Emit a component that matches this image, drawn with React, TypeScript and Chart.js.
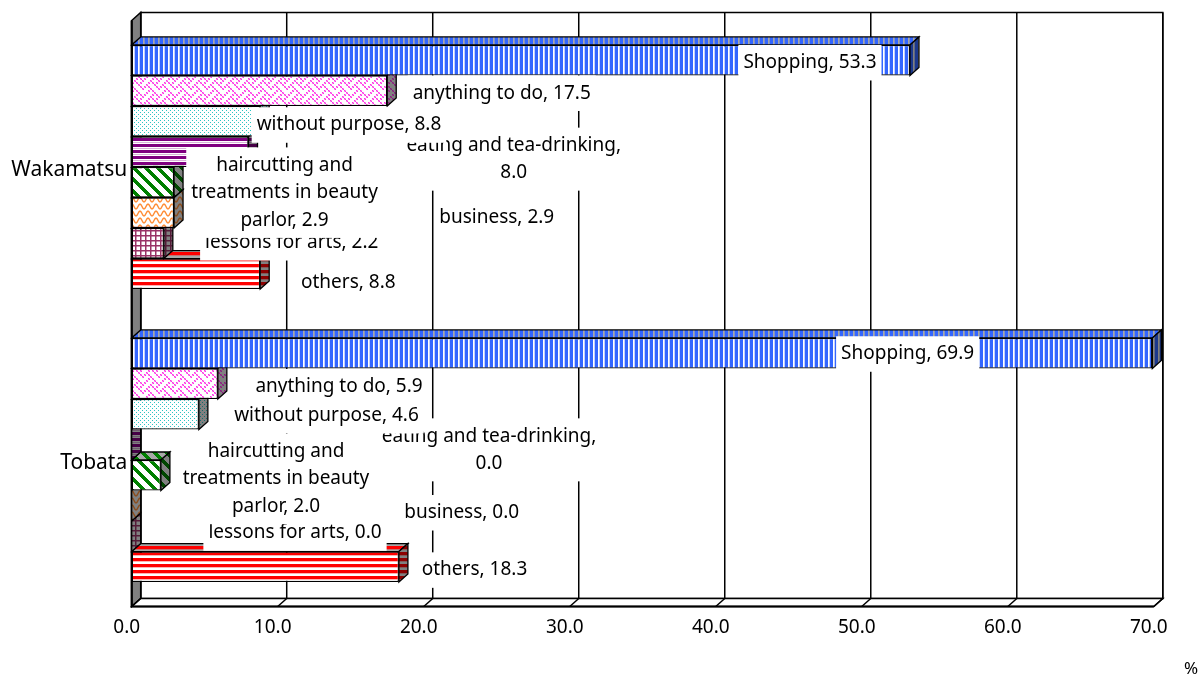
import React, { useEffect, useRef } from "react";
import { Chart, registerables } from "chart.js";

Chart.register(...registerables);

// ---------- data ----------
const categories = ["Wakamatsu", "Tobata"];
const seriesNames = [
  "Shopping",
  "anything to do",
  "without purpose",
  "eating and tea-drinking",
  "haircutting and treatments in beauty parlor",
  "business",
  "lessons for arts",
  "others",
];
const shopping = [53.3, 69.9];
const anythingToDo = [17.5, 5.9];
const withoutPurpose = [8.8, 4.6];
const eatingTea = [8.0, 0.0];
const haircutting = [2.9, 2.0];
const business = [2.9, 0.0];
const lessons = [2.2, 0.0];
const others = [8.8, 18.3];
const seriesValues = [shopping, anythingToDo, withoutPurpose, eatingTea, haircutting, business, lessons, others];

// label text (line breaks as in the picture)
const labelTemplates = [
  "Shopping, {v}",
  "anything to do, {v}",
  "without purpose, {v}",
  "eating and tea-drinking,\n{v}",
  "haircutting and\ntreatments in beauty\nparlor, {v}",
  "business, {v}",
  "lessons for arts, {v}",
  "others, {v}",
];

const xMin = 0;
const xMax = 70;
const xStep = 10;

// ---------- styles / layout ----------
const FONT = '"Noto Sans", sans-serif';
const DX = 9;
const DY = 8;
// label centre offsets (px) from each bar's end, [category][series]
const labelOffsets = [
  [[-100, 2.5], [114.5, 2.5], [88.8, 3.8], [265.2, 7.4], [110.5, 10.4], [322.7, 5], [127.9, -0.5], [88.1, 9]],
  [[-244.7, 0.8], [121.2, 3], [127.6, 1.5], [357.3, 5.1], [115.1, 3.7], [330, 7], [163.3, -3.2], [75.6, 3.3]],
];
const seriesPatterns = [
  { kind: "vstripe", fg: "#3366ff" },
  { kind: "weave", fg: "#ff33e6" },
  { kind: "dots", fg: "#2cc4c4" },
  { kind: "hstripe", fg: "#800080" },
  { kind: "diag", fg: "#008000" },
  { kind: "wave", fg: "#ff8c33" },
  { kind: "grid", fg: "#993366" },
  { kind: "hstripeRed", fg: "#ff0000" },
];

function darken(hex: string, f: number): string {
  const n = parseInt(hex.slice(1), 16);
  const r = Math.round(((n >> 16) & 255) * f);
  const g = Math.round(((n >> 8) & 255) * f);
  const b = Math.round((n & 255) * f);
  return `rgb(${r},${g},${b})`;
}

function makeTile(kind: string, fg: string, bg: string): HTMLCanvasElement {
  const c = document.createElement("canvas");
  let w = 8;
  let h = 8;
  switch (kind) {
    case "vstripe": w = 5; h = 4; break;
    case "weave": w = 16; h = 16; break;
    case "dots": w = 4; h = 4; break;
    case "hstripe": w = 4; h = 6; break;
    case "diag": w = 12; h = 12; break;
    case "wave": w = 8; h = 7; break;
    case "grid": w = 5; h = 5; break;
    case "hstripeRed": w = 4; h = 6; break;
  }
  c.width = w;
  c.height = h;
  const g = c.getContext("2d")!;
  g.fillStyle = bg;
  g.fillRect(0, 0, w, h);
  g.fillStyle = fg;
  g.strokeStyle = fg;
  switch (kind) {
    case "vstripe":
      g.fillRect(0, 0, 3, h);
      g.globalAlpha = 0.3;
      g.fillRect(4, 0, 1, h);
      break;
    case "weave": {
      const bits = [0x11, 0x2a, 0x44, 0xa2, 0x11, 0x28, 0x44, 0x8a];
      for (let r = 0; r < 8; r++)
        for (let col = 0; col < 8; col++)
          if ((bits[r] >> (7 - col)) & 1) {
            g.fillRect(col * 2, r * 2, 1, 1);
            g.fillRect(col * 2 + 1, r * 2 + 1, 1, 1);
            g.globalAlpha = 0.55;
            g.fillRect(col * 2 + 1, r * 2, 1, 1);
            g.fillRect(col * 2, r * 2 + 1, 1, 1);
            g.globalAlpha = 1;
          }
      break;
    }
    case "dots":
      g.fillRect(0, 0, 1, 1);
      g.fillRect(2, 2, 1, 1);
      break;
    case "hstripe":
      g.fillRect(0, 0, w, 3);
      g.globalAlpha = 0.3;
      g.fillRect(0, 4, w, 1);
      break;
    case "diag":
      for (let y = 0; y < h; y++)
        for (let x = 0; x < w; x++) if ((((x - y) % 12) + 12) % 12 < 5) g.fillRect(x, y, 1, 1);
      break;
    case "wave":
      g.lineWidth = 1.4;
      g.beginPath();
      for (let x = -1; x <= 9; x += 0.5) {
        const y = 3.5 + 2.4 * Math.cos((2 * Math.PI * x) / 8);
        if (x === -1) g.moveTo(x, y);
        else g.lineTo(x, y);
      }
      g.stroke();
      break;
    case "grid":
      g.fillRect(0, 0, w, 1.5);
      g.fillRect(0, 0, 1.5, h);
      break;
    case "hstripeRed":
      g.fillRect(0, 0, w, 3);
      g.globalAlpha = 0.3;
      g.fillRect(0, 3, w, 1);
      break;
  }
  return c;
}

export default function App() {
  const ref = useRef<HTMLCanvasElement | null>(null);

  useEffect(() => {
    const canvas = ref.current!;
    const ctx0 = canvas.getContext("2d")!;
    const pat = (kind: string, fg: string, bg: string) => ctx0.createPattern(makeTile(kind, fg, bg), "repeat")!;
    const frontPats = seriesPatterns.map((p) => pat(p.kind, p.fg, "#ffffff"));
    const topPats = seriesPatterns.map((p) => pat(p.kind, p.fg, "#a8a8a8"));
    const sidePats = seriesPatterns.map((p) => pat(p.kind, darken(p.fg, 0.55), "#808080"));

    const poly = (ctx: CanvasRenderingContext2D, pts: number[][], fill: any, lw = 1.3) => {
      ctx.beginPath();
      ctx.moveTo(pts[0][0], pts[0][1]);
      for (let i = 1; i < pts.length; i++) ctx.lineTo(pts[i][0], pts[i][1]);
      ctx.closePath();
      if (fill) {
        ctx.fillStyle = fill;
        ctx.fill();
      }
      ctx.strokeStyle = "#000";
      ctx.lineWidth = lw;
      ctx.stroke();
    };

    const threeD = {
      id: "threeD",
      beforeDatasetsDraw(chart: any) {
        const { ctx, chartArea } = chart;
        const { left: L, right: R, top: T, bottom: B } = chartArea;
        const xs = chart.scales.x;
        ctx.save();
        // back wall
        ctx.fillStyle = "#fff";
        ctx.fillRect(L + DX, T - DY, R - L, B - T);
        ctx.strokeStyle = "#000";
        ctx.lineWidth = 1.5;
        for (let v = xMin; v <= xMax; v += xStep) {
          const px = xs.getPixelForValue(v) + DX;
          ctx.beginPath();
          ctx.moveTo(px, T - DY);
          ctx.lineTo(px, B - DY);
          ctx.stroke();
        }
        ctx.strokeRect(L + DX, T - DY, R - L, B - T);
        // left wall
        poly(ctx, [[L, T], [L + DX, T - DY], [L + DX, B - DY], [L, B]], "#808080", 1.5);
        // floor
        poly(ctx, [[L, B], [R, B], [R + DX, B - DY], [L + DX, B - DY]], "#ffffff", 1.5);
        ctx.lineWidth = 1.5;
        for (let v = xMin; v <= xMax; v += xStep) {
          const px = xs.getPixelForValue(v);
          ctx.beginPath();
          ctx.moveTo(px, B);
          ctx.lineTo(px + DX, B - DY);
          ctx.stroke();
        }
        // front edges
        ctx.lineWidth = 2.2;
        ctx.beginPath();
        ctx.moveTo(L, T);
        ctx.lineTo(L, B);
        ctx.lineTo(R, B);
        ctx.stroke();
        ctx.restore();
      },
      afterDatasetDraw(chart: any, args: any) {
        const { ctx } = chart;
        const si = args.index;
        ctx.save();
        args.meta.data.forEach((el: any) => {
          const p = el.getProps(["x", "y", "base", "height"], true);
          const x0 = p.base;
          const x1 = p.x;
          const yT = p.y - p.height / 2;
          const yB = p.y + p.height / 2;
          if (x1 - x0 > 0.5) poly(ctx, [[x0, yT], [x1, yT], [x1 + DX, yT - DY], [x0 + DX, yT - DY]], topPats[si]);
          poly(ctx, [[x1, yT], [x1 + DX, yT - DY], [x1 + DX, yB - DY], [x1, yB]], sidePats[si]);
        });
        ctx.restore();
      },
      afterDatasetsDraw(chart: any) {
        const { ctx } = chart;
        ctx.save();
        ctx.font = `19px ${FONT}`;
        ctx.textAlign = "center";
        ctx.textBaseline = "middle";
        const lh = 27.5;
        for (let ci = 0; ci < categories.length; ci++) {
          for (let si = seriesValues.length - 1; si >= 0; si--) {
            const el = chart.getDatasetMeta(si).data[ci];
            const p = el.getProps(["x", "y"], true);
            const [ox, oy] = labelOffsets[ci][si];
            const cx = p.x + ox;
            const cy = p.y + oy;
            const text = labelTemplates[si].replace("{v}", seriesValues[si][ci].toFixed(1));
            const lines = text.split("\n");
            const w = Math.max(...lines.map((l) => ctx.measureText(l).width)) + 10;
            const h = lines.length * lh + 8;
            ctx.fillStyle = "#fff";
            ctx.fillRect(cx - w / 2, cy - h / 2, w, h);
            ctx.fillStyle = "#000";
            lines.forEach((l, k) => ctx.fillText(l, cx, cy + (k - (lines.length - 1) / 2) * lh));
          }
        }
        ctx.font = `17px ${FONT}`;
        ctx.fillText("%", 1191, 669);
        ctx.restore();
      },
    };

    const chart = new Chart(canvas, {
      type: "bar",
      data: {
        labels: categories,
        datasets: seriesValues.map((vals, i) => ({
          label: seriesNames[i],
          data: vals,
          backgroundColor: frontPats[i],
          borderColor: "#000",
          borderWidth: 1.3,
          borderSkipped: false,
          barPercentage: 1,
          categoryPercentage: 0.833,
          clip: false,
        })),
      },
      options: {
        indexAxis: "y",
        responsive: false,
        animation: false,
        events: [],
        layout: { padding: { top: 20.5, right: 48.2, left: 0, bottom: 0 } },
        plugins: { legend: { display: false }, tooltip: { enabled: false }, title: { display: false } },
        scales: {
          x: {
            type: "linear",
            min: xMin,
            max: xMax,
            grid: { display: false, drawTicks: false, tickLength: 0 },
            border: { display: false },
            ticks: {
              stepSize: xStep,
              autoSkip: false,
              maxRotation: 0,
              padding: 10,
              labelOffset: -5,
              color: "#000",
              font: { family: FONT, size: 19 },
              callback: (v: any) => Number(v).toFixed(1),
            },
            afterFit: (s: any) => {
              s.height = 70.5;
            },
          },
          y: {
            type: "category",
            grid: { display: false, drawTicks: false, tickLength: 0 },
            border: { display: false },
            ticks: {
              padding: 4.5,
              labelOffset: 3.5,
              color: "#000",
              font: { family: FONT, size: 21 },
            },
            afterFit: (s: any) => {
              s.width = 131.7;
            },
          },
        },
      },
      plugins: [threeD],
    } as any);

    return () => chart.destroy();
  }, []);

  return (
    <div style={{ position: "absolute", left: 0, top: 0, width: 1202, height: 677, background: "#fff" }}>
      <canvas ref={ref} width={1202} height={677} style={{ display: "block" }} />
    </div>
  );
}
